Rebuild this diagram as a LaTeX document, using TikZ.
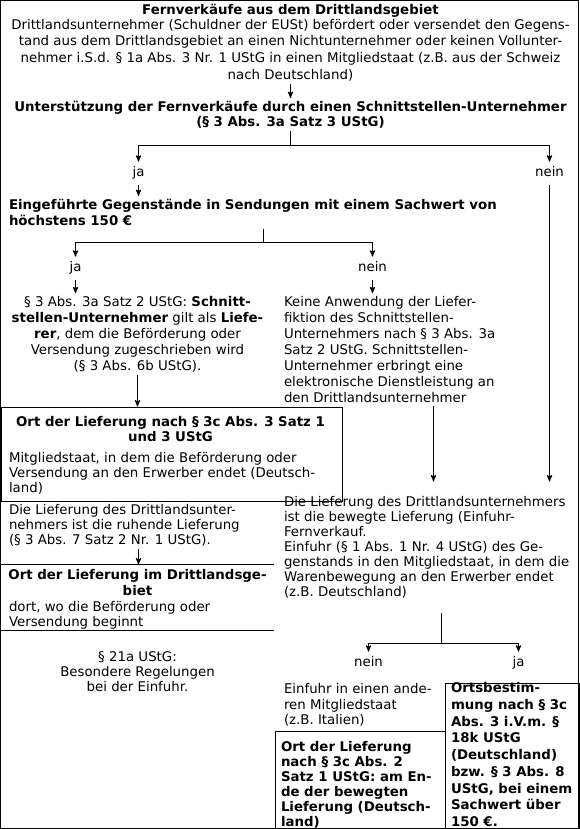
\documentclass[tikz,border=0pt]{standalone}
\usepackage{fontspec}
\setmainfont{DejaVu Sans}
\usetikzlibrary{arrows,calc,positioning}

\begin{document}
\begin{tikzpicture}
[
	              x = 0.75pt,
	              y = -0.75pt,
	     line width = 0.75pt,
	           ->, >= stealth',
	    para/.style = { inner xsep=0pt, inner ysep=2pt, font=\fontsize{10pt}{#1}\selectfont },
	  para/.default = 11.25pt,
	 heading/.style = { inner xsep=0pt, inner ysep=2pt, font=\fontsize{10pt}{#1}\selectfont\bfseries },
   heading/.default = 11.25pt,
	  choice/.style = { inner xsep=0pt, inner ysep=4pt, text height=7pt, text depth=2pt,
	                    font=\fontsize{10pt}{12pt}\selectfont },
	     box/.style = { draw=black, inner sep=0pt, anchor=north west }
]
	\useasboundingbox (-0.5,-0.5) rectangle (578.5,828.5);
	\draw [-] (0,0) rectangle (578,828);

	% Kopf (base = letzte Zeile)
	\node (title)   at (290,14)   [heading, anchor=base] {Fernverkäufe aus dem Drittlandsgebiet};
	\node (intro)   at (290,78.5) [para=12.4pt, anchor=base, align=center]
		{Drittlandsunternehmer (Schuldner der EUSt) befördert oder versendet den Gegens-\\
		 tand aus dem Drittlandsgebiet an einen Nichtunternehmer oder keinen Vollunter-\\
		 nehmer i.S.d. § 1a Abs. 3 Nr. 1 UStG in einen Mitgliedstaat (z.B. aus der Schweiz\\
		 nach Deutschland)};
	\node (unterst) at (290,126)  [heading, anchor=base, align=center]
		{Unterstützung der Fernverkäufe durch einen Schnittstellen-Unternehmer\\
		 (§ 3 Abs. 3a Satz 3 UStG)};
	\coordinate (split1) at (290,145);
	\node (ja1)     at (138,173)  [choice] {ja};
	\node (nein1)   at (549,173)  [choice] {nein};

	% Sachwert
	\node (eing)    at (8,225)    [heading=12pt, anchor=base west, align=left]
		{Eingeführte Gegenstände in Sendungen mit einem Sachwert von\\
		 höchstens 150 €};
	\coordinate (split2) at (263,242);
	\node (ja2)     at (75,268)   [choice] {ja};
	\node (nein2)   at (372,268)  [choice] {nein};

	\node (schnitt) at (137,370)  [para=12pt, anchor=base, align=center]
		{§ 3 Abs. 3a Satz 2 UStG: \textbf{Schnitt-}\\
		 \textbf{stellen-Unternehmer} gilt als \textbf{Liefe-}\\
		 \textbf{rer}, dem die Beförderung oder\\
		 Versendung zugeschrieben wird\\
		 (§ 3 Abs. 6b UStG).};
	\node (keine)   at (283,402)  [para=12pt, anchor=base west, align=left]
		{Keine Anwendung der Liefer-\\
		 fiktion des Schnittstellen-\\
		 Unternehmers nach § 3 Abs. 3a\\
		 Satz 2 UStG. Schnittstellen-\\
		 Unternehmer erbringt eine\\
		 elektronische Dienstleistung an\\
		 den Drittlandsunternehmer};

	% linke Spalte
	\node (ortA)     at (0,406)   [box, minimum width=255.75pt, minimum height=70.5pt] {};
	\node (ortAkopf) at (170,441) [heading, anchor=base, align=center]
		{Ort der Lieferung nach § 3c Abs. 3 Satz 1\\
		 und 3 UStG};
	\node (ortAtext) at (8,492)   [para, anchor=base west, align=left]
		{Mitgliedstaat, in dem die Beförderung oder\\
		 Versendung an den Erwerber endet (Deutsch-\\
		 land)};
	\node (ruhend)   at (8,544)   [para, anchor=base west, align=left]
		{Die Lieferung des Drittlandsunter-\\
		 nehmers ist die ruhende Lieferung\\
		 (§ 3 Abs. 7 Satz 2 Nr. 1 UStG).};
	\coordinate (sepB) at (138,564);
	\node (ortBkopf) at (137,595) [heading=12pt, anchor=base, align=center]
		{Ort der Lieferung im Drittlandsge-\\
		 biet};
	\node (ortBtext) at (8,626)   [para, anchor=base west, align=left]
		{dort, wo die Beförderung oder\\
		 Versendung beginnt};
	\node (einfuhr)  at (137,691) [para, anchor=base, align=center]
		{§ 21a UStG:\\
		 Besondere Regelungen\\
		 bei der Einfuhr.};

	% rechte Spalte
	\coordinate (mergeL) at (433,481);
	\coordinate (mergeR) at (549,481);
	\node (bewegt)   at (283,596) [para, anchor=base west, align=left]
		{Die Lieferung des Drittlandsunternehmers\\
		 ist die bewegte Lieferung (Einfuhr-\\
		 Fernverkauf.\\
		 Einfuhr (§ 1 Abs. 1 Nr. 4 UStG) des Ge-\\
		 genstands in den Mitgliedstaat, in dem die\\
		 Warenbewegung an den Erwerber endet\\
		 (z.B. Deutschland)};
	\coordinate (split3) at (441,643);
	\node (nein3)    at (368,663) [choice] {nein};
	\node (ja3)      at (518,663) [choice] {ja};
	\node (anders)   at (283,724) [para=11.6pt, anchor=base west, align=left]
		{Einfuhr in einen ande-\\
		 ren Mitgliedstaat\\
		 (z.B. Italien)};
	\node (ortC)     at (274,730) [box, minimum width=127.5pt, minimum height=73.5pt] {};
	\node (ortCtext) at (280,826) [heading, anchor=base west, align=left]
		{Ort der Lieferung\\
		 nach § 3c Abs. 2\\
		 Satz 1 UStG: am En-\\
		 de der bewegten\\
		 Lieferung (Deutsch-\\
		 land)};
	\node (ortD)     at (444,682) [box, minimum width=100.5pt, minimum height=109.5pt] {};
	\node (ortDtext) at (450,826) [heading=12.56pt, anchor=base west, align=left]
		{Ortsbestim-\\
		 mung nach § 3c\\
		 Abs. 3 i.V.m. §\\
		 18k UStG\\
		 (Deutschland)\\
		 bzw. § 3 Abs. 8\\
		 UStG, bei einem\\
		 Sachwert über\\
		 150 €.};

	% Verbindungen
	\draw (intro.south) -- (unterst.north);
	\draw [-] (unterst.south) -- (split1);
	\draw (split1) -| (ja1.north);
	\draw (split1) -| (nein1.north);
	\draw (ja1.south) -- (ja1.south |- eing.north);
	\draw [-] (eing.south -| split2) -- (split2);
	\draw (split2) -| (ja2.north);
	\draw (split2) -| (nein2.north);
	\draw (ja2.south) -- (ja2.south |- schnitt.north);
	\draw (nein2.south) -- (nein2.south |- keine.north);
	\draw (schnitt.south) -- (schnitt.south |- ortA.north);
	\draw (keine.south -| mergeL) -- (mergeL);
	\draw (nein1.south) -- (mergeR);
	\draw (ruhend.south -| sepB) -- (sepB);
	\draw [-] (0,564) -- (273,564);
	\draw [-] (0,630) -- (273,630);
	\draw [-, shorten <=9pt] (bewegt.south -| split3) -- (split3);
	\draw (split3) -| (nein3.north);
	\draw (split3) -| (ja3.north);

\end{tikzpicture}
\end{document}
